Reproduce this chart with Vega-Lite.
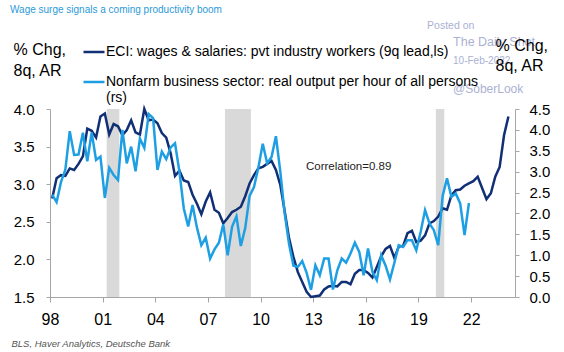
{
  "$schema": "https://vega.github.io/schema/vega-lite/v6.json",
  "width": 465,
  "height": 188,
  "autosize": {"type": "none"},
  "padding": {"left": 50, "top": 109, "right": 49, "bottom": 55},
  "background": "white",
  "config": {
    "font": "Liberation Sans",
    "view": {"stroke": null},
    "axis": {"grid": false, "titleFontWeight": "normal", "labelOverlap": false}
  },
  "title": {
    "text": "Wage surge signals a coming productivity boom",
    "anchor": "start",
    "frame": "group",
    "dx": -40,
    "offset": 6,
    "fontSize": 10,
    "fontWeight": "normal",
    "color": "#2b9ad9",
    "font": "Liberation Sans"
  },
  "datasets": {
    "recessions": [
      {"start": 2001.23, "end": 2001.95},
      {"start": 2007.97, "end": 2009.45},
      {"start": 2019.99, "end": 2020.47}
    ],
    "series": [
      {"t": 1998.125, "eci": 2.81, "prod": 2.45},
      {"t": 1998.375, "eci": 3.08, "prod": 2.27},
      {"t": 1998.625, "eci": 3.12, "prod": 2.75},
      {"t": 1998.875, "eci": 3.11, "prod": 3.05},
      {"t": 1999.125, "eci": 3.21, "prod": 3.97},
      {"t": 1999.375, "eci": 3.19, "prod": 3.40},
      {"t": 1999.625, "eci": 3.27, "prod": 3.41},
      {"t": 1999.875, "eci": 3.37, "prod": 3.93},
      {"t": 2000.125, "eci": 3.74, "prod": 3.25},
      {"t": 2000.375, "eci": 3.71, "prod": 3.94},
      {"t": 2000.625, "eci": 3.62, "prod": 3.28},
      {"t": 2000.875, "eci": 3.90, "prod": 3.36},
      {"t": 2001.125, "eci": 3.94, "prod": 2.37},
      {"t": 2001.375, "eci": 3.66, "prod": 3.09},
      {"t": 2001.625, "eci": 3.80, "prod": 2.92},
      {"t": 2001.875, "eci": 3.77, "prod": 2.80},
      {"t": 2002.125, "eci": 3.65, "prod": 4.00},
      {"t": 2002.375, "eci": 3.72, "prod": 3.20},
      {"t": 2002.625, "eci": 3.85, "prod": 3.60},
      {"t": 2002.875, "eci": 3.69, "prod": 3.01},
      {"t": 2003.125, "eci": 3.66, "prod": 3.79},
      {"t": 2003.375, "eci": 4.00, "prod": 3.57},
      {"t": 2003.625, "eci": 3.85, "prod": 4.38},
      {"t": 2003.875, "eci": 3.86, "prod": 4.28},
      {"t": 2004.125, "eci": 3.81, "prod": 3.04},
      {"t": 2004.375, "eci": 3.68, "prod": 3.48},
      {"t": 2004.625, "eci": 3.62, "prod": 3.30},
      {"t": 2004.875, "eci": 3.41, "prod": 3.58},
      {"t": 2005.125, "eci": 3.11, "prod": 3.68},
      {"t": 2005.375, "eci": 3.18, "prod": 3.00},
      {"t": 2005.625, "eci": 3.05, "prod": 2.12},
      {"t": 2005.875, "eci": 3.03, "prod": 1.69},
      {"t": 2006.125, "eci": 2.86, "prod": 2.20},
      {"t": 2006.375, "eci": 2.74, "prod": 1.66},
      {"t": 2006.625, "eci": 2.60, "prod": 1.24},
      {"t": 2006.875, "eci": 2.77, "prod": 1.42},
      {"t": 2007.125, "eci": 2.89, "prod": 0.92},
      {"t": 2007.375, "eci": 2.66, "prod": 1.14},
      {"t": 2007.625, "eci": 2.62, "prod": 1.30},
      {"t": 2007.875, "eci": 2.48, "prod": 1.74},
      {"t": 2008.125, "eci": 2.55, "prod": 1.00},
      {"t": 2008.375, "eci": 2.63, "prod": 1.68},
      {"t": 2008.625, "eci": 2.66, "prod": 1.93},
      {"t": 2008.875, "eci": 2.70, "prod": 1.22},
      {"t": 2009.125, "eci": 2.84, "prod": 1.65},
      {"t": 2009.375, "eci": 3.01, "prod": 2.42},
      {"t": 2009.625, "eci": 3.12, "prod": 2.63},
      {"t": 2009.875, "eci": 3.21, "prod": 3.10},
      {"t": 2010.125, "eci": 3.23, "prod": 3.67},
      {"t": 2010.375, "eci": 3.27, "prod": 3.20},
      {"t": 2010.625, "eci": 3.31, "prod": 3.35},
      {"t": 2010.875, "eci": 3.19, "prod": 3.85},
      {"t": 2011.125, "eci": 2.99, "prod": 3.00},
      {"t": 2011.375, "eci": 2.64, "prod": 2.00},
      {"t": 2011.625, "eci": 2.28, "prod": 1.26},
      {"t": 2011.875, "eci": 2.03, "prod": 0.75},
      {"t": 2012.125, "eci": 1.83, "prod": 0.72},
      {"t": 2012.375, "eci": 1.70, "prod": 0.86},
      {"t": 2012.625, "eci": 1.57, "prod": 0.58},
      {"t": 2012.875, "eci": 1.50, "prod": 0.17},
      {"t": 2013.125, "eci": 1.51, "prod": 0.76},
      {"t": 2013.375, "eci": 1.52, "prod": 0.52},
      {"t": 2013.625, "eci": 1.60, "prod": 0.92},
      {"t": 2013.875, "eci": 1.64, "prod": 0.92},
      {"t": 2014.125, "eci": 1.65, "prod": 0.18},
      {"t": 2014.375, "eci": 1.64, "prod": 0.64},
      {"t": 2014.625, "eci": 1.70, "prod": 0.92},
      {"t": 2014.875, "eci": 1.70, "prod": 0.82},
      {"t": 2015.125, "eci": 1.67, "prod": 1.04},
      {"t": 2015.375, "eci": 1.81, "prod": 1.30},
      {"t": 2015.625, "eci": 1.86, "prod": 1.08},
      {"t": 2015.875, "eci": 1.86, "prod": 0.52},
      {"t": 2016.125, "eci": 1.82, "prod": 1.16},
      {"t": 2016.375, "eci": 1.76, "prod": 0.60},
      {"t": 2016.625, "eci": 1.90, "prod": 0.40},
      {"t": 2016.875, "eci": 2.04, "prod": 1.00},
      {"t": 2017.125, "eci": 2.14, "prod": 0.75},
      {"t": 2017.375, "eci": 2.18, "prod": 0.42},
      {"t": 2017.625, "eci": 2.02, "prod": 0.82},
      {"t": 2017.875, "eci": 2.17, "prod": 1.24},
      {"t": 2018.125, "eci": 2.18, "prod": 1.20},
      {"t": 2018.375, "eci": 2.35, "prod": 1.36},
      {"t": 2018.625, "eci": 2.38, "prod": 1.36},
      {"t": 2018.875, "eci": 2.23, "prod": 1.12},
      {"t": 2019.125, "eci": 2.25, "prod": 1.56},
      {"t": 2019.375, "eci": 2.32, "prod": 2.08},
      {"t": 2019.625, "eci": 2.48, "prod": 1.76},
      {"t": 2019.875, "eci": 2.51, "prod": 1.60},
      {"t": 2020.125, "eci": 2.57, "prod": 1.24},
      {"t": 2020.375, "eci": 2.68, "prod": 2.42},
      {"t": 2020.625, "eci": 2.66, "prod": 2.84},
      {"t": 2020.875, "eci": 2.85, "prod": 2.40},
      {"t": 2021.125, "eci": 2.92, "prod": 2.48},
      {"t": 2021.375, "eci": 2.93, "prod": 2.24},
      {"t": 2021.625, "eci": 2.98, "prod": 1.48},
      {"t": 2021.875, "eci": 3.01, "prod": 2.25},
      {"t": 2022.125, "eci": 3.04, "prod": null},
      {"t": 2022.375, "eci": 3.10, "prod": null},
      {"t": 2022.625, "eci": 2.95, "prod": null},
      {"t": 2022.875, "eci": 2.80, "prod": null},
      {"t": 2023.125, "eci": 2.88, "prod": null},
      {"t": 2023.375, "eci": 3.10, "prod": null},
      {"t": 2023.625, "eci": 3.23, "prod": null},
      {"t": 2023.875, "eci": 3.65, "prod": null},
      {"t": 2024.125, "eci": 3.90, "prod": null}
    ]
  },
  "layer": [
    {
      "data": {"name": "recessions"},
      "mark": {"type": "rect", "color": "#d9d9d9"},
      "encoding": {
        "x": {
          "field": "start",
          "type": "quantitative",
          "title": "BLS, Haver Analytics, Deutsche Bank",
          "scale": {"domain": [1998, 2024.5], "nice": false, "zero": false},
          "axis": {
            "values": [1998, 2001, 2004, 2007, 2010, 2013, 2016, 2019, 2022],
            "labelExpr": "slice('0' + (datum.value % 100), -2)",
            "labelFontSize": 16,
            "labelColor": "black",
            "labelPadding": 9,
            "labelFlush": false,
            "tickSize": 5,
            "tickColor": "#a6a6a6",
            "domainColor": "#a6a6a6",
            "titleFontStyle": "italic",
            "titleFontSize": 9.5,
            "titleColor": "#555555",
            "titleAlign": "left",
            "titleBaseline": "alphabetic",
            "titleX": -39,
            "titleY": 49
          }
        },
        "x2": {"field": "end"}
      }
    },
    {
      "data": {"name": "series"},
      "mark": {"type": "line", "strokeWidth": 2.5},
      "encoding": {
        "x": {"field": "t", "type": "quantitative", "title": "BLS, Haver Analytics, Deutsche Bank", "scale": {"domain": [1998, 2024.5], "nice": false, "zero": false}},
        "y": {
          "field": "eci",
          "type": "quantitative",
          "scale": {"domain": [1.5, 4], "nice": false, "zero": false},
          "axis": {
            "values": [1.5, 2, 2.5, 3, 3.5, 4],
            "format": ".1f",
            "labelFontSize": 15,
            "labelColor": "black",
            "labelPadding": 12,
            "labelOverlap": false,
            "labelFlush": false,
            "tickSize": 4,
            "tickColor": "#a6a6a6",
            "domainColor": "#a6a6a6",
            "title": ["% Chg,", "8q, AR"],
            "titleAngle": 0,
            "titleAlign": "left",
            "titleBaseline": "alphabetic",
            "titleX": -37,
            "titleY": -55,
            "titleFontSize": 16,
            "titleLineHeight": 21,
            "titleColor": "black"
          }
        },
        "color": {
          "datum": "ECI: wages & salaries: pvt industry workers (9q lead,ls)",
          "scale": {
            "domain": ["ECI: wages & salaries: pvt industry workers (9q lead,ls)", "Nonfarm business sector: real output per hour of all persons (rs)"],
            "range": ["#102f75", "#1e9fe3"]
          },
          "legend": {
            "orient": "none",
            "legendX": 32,
            "legendY": -69,
            "direction": "vertical",
            "title": null,
            "padding": 0,
            "symbolType": "stroke",
            "symbolSize": 441,
            "symbolStrokeWidth": 2.5,
            "labelFontSize": 14,
            "labelColor": "black",
            "labelOffset": 0,
            "labelLimit": 1000,
            "labelBaseline": "middle",
            "rowPadding": 11,
            "labelExpr": "indexof(datum.label, 'Nonfarm') == 0 ? ['Nonfarm business sector: real output per hour of all persons', '(rs)'] : datum.label"
          }
        }
      }
    },
    {
      "data": {"values": [{}]},
      "mark": {"type": "text", "align": "left", "baseline": "alphabetic", "fontSize": 11.5, "color": "#222222"},
      "encoding": {
        "x": {"datum": 2012.59, "type": "quantitative"},
        "y": {"datum": 3.19, "type": "quantitative", "scale": {"domain": [1.5, 4], "nice": false, "zero": false}, "axis": null},
        "text": {"value": "Correlation=0.89"}
      }
    },
    {
      "data": {"values": [{}]},
      "mark": {"type": "text", "align": "left", "baseline": "middle", "fontSize": 10.5, "color": "#aab1d3"},
      "encoding": {
        "x": {"datum": 2019.49, "type": "quantitative"},
        "y": {"datum": 5.1, "type": "quantitative", "scale": {"domain": [1.5, 4], "nice": false, "zero": false}, "axis": null},
        "text": {"value": "Posted on"}
      }
    },
    {
      "data": {"values": [{}]},
      "mark": {"type": "text", "align": "left", "baseline": "middle", "fontSize": 12.5, "color": "#aab1d3"},
      "encoding": {
        "x": {"datum": 2020.97, "type": "quantitative"},
        "y": {"datum": 4.89, "type": "quantitative", "scale": {"domain": [1.5, 4], "nice": false, "zero": false}, "axis": null},
        "text": {"value": "The Daily Shot"}
      }
    },
    {
      "data": {"values": [{}]},
      "mark": {"type": "text", "align": "left", "baseline": "middle", "fontSize": 10, "color": "#aab1d3"},
      "encoding": {
        "x": {"datum": 2020.97, "type": "quantitative"},
        "y": {"datum": 4.64, "type": "quantitative", "scale": {"domain": [1.5, 4], "nice": false, "zero": false}, "axis": null},
        "text": {"value": "10-Feb-2022"}
      }
    },
    {
      "data": {"values": [{}]},
      "mark": {"type": "text", "align": "left", "baseline": "middle", "fontSize": 12, "color": "#aab1d3"},
      "encoding": {
        "x": {"datum": 2020.97, "type": "quantitative"},
        "y": {"datum": 4.26, "type": "quantitative", "scale": {"domain": [1.5, 4], "nice": false, "zero": false}, "axis": null},
        "text": {"value": "@SoberLook"}
      }
    },
    {
      "data": {"name": "series"},
      "mark": {"type": "line", "strokeWidth": 2.5},
      "encoding": {
        "x": {"field": "t", "type": "quantitative", "title": "BLS, Haver Analytics, Deutsche Bank", "scale": {"domain": [1998, 2024.5], "nice": false, "zero": false}},
        "y": {
          "field": "prod",
          "type": "quantitative",
          "scale": {"domain": [0, 4.5], "nice": false, "zero": false},
          "axis": {
            "orient": "right",
            "zindex": 1,
            "values": [0, 0.5, 1, 1.5, 2, 2.5, 3, 3.5, 4, 4.5],
            "format": ".1f",
            "labelFontSize": 15,
            "labelColor": "black",
            "labelPadding": 10,
            "labelOverlap": false,
            "tickSize": 4,
            "tickColor": "#a6a6a6",
            "domainColor": "#a6a6a6",
            "title": ["% Chg,", "8q, AR"],
            "titleAngle": 0,
            "titleAlign": "left",
            "titleBaseline": "alphabetic",
            "titleX": -20,
            "titleY": -59,
            "titleFontSize": 16,
            "titleLineHeight": 20,
            "titleColor": "black"
          }
        },
        "color": {"datum": "Nonfarm business sector: real output per hour of all persons (rs)"}
      }
    }
  ],
  "resolve": {"scale": {"y": "independent"}}
}
